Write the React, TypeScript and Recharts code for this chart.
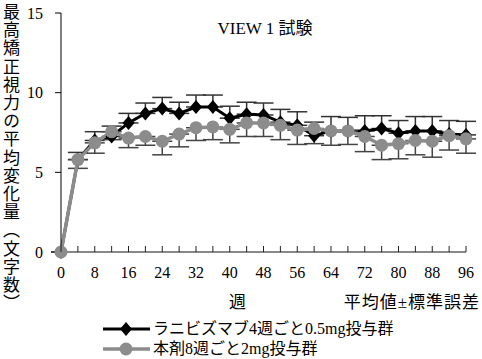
import { LineChart, Line, XAxis, YAxis, ErrorBar } from "recharts";

const WEEKS = [0, 4, 8, 12, 16, 20, 24, 28, 32, 36, 40, 44, 48, 52, 56, 60, 64, 68, 72, 76, 80, 84, 88, 92, 96];
const WEEK_TICKS = [0, 4, 8, 12, 16, 20, 24, 28, 32, 36, 40, 44, 48, 52, 56, 60, 64, 68, 72, 76, 80, 84, 88, 92, 96];
const Y_TICKS = [0, 5, 10, 15];

// ラニビズマブ 4週ごと 0.5mg (mean, SE)
const RBZ_MEAN = [0, 5.8, 7.0, 7.25, 8.1, 8.7, 9.0, 8.7, 9.1, 9.1, 8.4, 8.65, 8.6, 8.15, 7.95, 7.3, 7.6, 7.6, 7.6, 7.75, 7.45, 7.6, 7.6, 7.4, 7.35];
const RBZ_SE = [0, 0.45, 0.55, 0.65, 0.6, 0.65, 0.7, 0.7, 0.75, 0.75, 0.75, 0.75, 0.75, 0.8, 0.85, 0.85, 0.9, 0.85, 0.95, 0.8, 0.8, 0.9, 0.9, 0.85, 0.85];

// 本剤 8週ごと 2mg (mean, SE)
const AFL_MEAN = [0, 5.8, 6.85, 7.55, 7.15, 7.25, 6.95, 7.4, 7.8, 7.85, 7.7, 8.1, 8.1, 7.95, 7.65, 7.75, 7.6, 7.6, 7.25, 6.7, 6.8, 7.0, 6.95, 7.3, 7.1];
const AFL_SE = [0, 0.55, 0.65, 0.5, 0.6, 0.55, 0.85, 0.8, 0.8, 0.8, 0.85, 0.85, 0.85, 0.9, 0.9, 0.95, 0.9, 0.85, 0.95, 0.9, 0.95, 0.9, 1.0, 0.9, 0.9];

const RBZ_LABEL = "ラニビズマブ4週ごと0.5mg投与群";
const AFL_LABEL = "本剤8週ごと2mg投与群";

const GRAY = "#8c8c8c";
const SERIF = "'Liberation Serif', 'DejaVu Serif', serif";
const JP = "'Liberation Serif', 'Noto Sans CJK JP', sans-serif";

// upper bar only for ranibizumab, lower bar only for 本剤
const data = WEEKS.map((w, i) => ({
  week: w,
  rbz: RBZ_MEAN[i],
  rbzErr: [0, RBZ_SE[i]],
  afl: AFL_MEAN[i],
  aflErr: [AFL_SE[i], 0],
}));

function Diamond(props: any) {
  const { cx, cy } = props;
  if (cx == null || cy == null) return null;
  return <polygon points={`${cx},${cy - 7} ${cx + 6},${cy} ${cx},${cy + 7} ${cx - 6},${cy}`} fill="#000" />;
}

function WeekTick(props: any) {
  const { x, y, payload } = props;
  return (
    <g>
      <line x1={x} y1={y} x2={x} y2={y - 6} stroke="#222" strokeWidth={1} />
      {payload.value % 8 === 0 && (
        <text x={x} y={y + 26} textAnchor="middle" fontSize={16} fontFamily={SERIF} fill="#000">
          {payload.value}
        </text>
      )}
    </g>
  );
}

export default function App() {
  return (
    <div style={{ position: "absolute", left: 0, top: 0, width: 482, height: 359, background: "#fff", fontFamily: JP }}>
      <LineChart width={482} height={290} data={data} margin={{ top: 13, right: 16, left: 0, bottom: 0 }}>
        <XAxis
          dataKey="week"
          type="number"
          domain={[0, 96]}
          ticks={WEEK_TICKS}
          interval={0}
          height={38}
          tickSize={0}
          tickMargin={0}
          tickLine={false}
          axisLine={{ stroke: "#888", strokeWidth: 2 }}
          tick={<WeekTick />}
        />
        <YAxis
          domain={[0, 15]}
          ticks={Y_TICKS}
          width={61}
          tickSize={6}
          tickMargin={12}
          axisLine={{ stroke: "#000" }}
          tickLine={{ stroke: "#000" }}
          tick={{ fontSize: 16, fontFamily: SERIF, fill: "#000" }}
        />
        <Line
          dataKey="rbz"
          stroke="#000"
          strokeWidth={3}
          dot={<Diamond />}
          isAnimationActive={false}
        >
          <ErrorBar dataKey="rbzErr" width={10} stroke="#333" strokeWidth={1.5} />
        </Line>
        <Line
          dataKey="afl"
          stroke={GRAY}
          strokeWidth={3.5}
          dot={{ r: 6.5, fill: GRAY, stroke: GRAY, strokeWidth: 0 }}
          isAnimationActive={false}
        >
          <ErrorBar dataKey="aflErr" width={10} stroke="#444" strokeWidth={1.5} />
        </Line>
      </LineChart>

      <div style={{ position: "absolute", left: 0, top: 3, writingMode: "vertical-rl", fontSize: 17, lineHeight: "19px", letterSpacing: 1.2, color: "#000" }}>
        最高矯正視力の平均変化量（文字数）
      </div>
      <div style={{ position: "absolute", left: 0, width: 530, top: 14, textAlign: "center", fontSize: 17, color: "#000" }}>
        VIEW 1 試験
      </div>
      <div style={{ position: "absolute", left: 229, top: 288, fontSize: 17, color: "#000" }}>週</div>
      <div style={{ position: "absolute", right: 2, top: 288, fontSize: 17, letterSpacing: 1, color: "#000" }}>平均値±標準誤差</div>

      <div style={{ position: "absolute", left: 103, top: 319, fontSize: 16, lineHeight: "20px", color: "#000" }}>
        <div style={{ display: "flex", alignItems: "center", height: 20 }}>
          <svg width={48} height={16}>
            <line x1={0} y1={8} x2={47} y2={8} stroke="#000" strokeWidth={3} />
            <polygon points="23,1 29,8 23,15 17,8" fill="#000" />
          </svg>
          <span style={{ marginLeft: 2 }}>{RBZ_LABEL}</span>
        </div>
        <div style={{ display: "flex", alignItems: "center", height: 20 }}>
          <svg width={48} height={16}>
            <line x1={0} y1={8} x2={47} y2={8} stroke={GRAY} strokeWidth={3.5} />
            <circle cx={23} cy={8} r={6.5} fill={GRAY} />
          </svg>
          <span style={{ marginLeft: 2 }}>{AFL_LABEL}</span>
        </div>
      </div>
    </div>
  );
}
